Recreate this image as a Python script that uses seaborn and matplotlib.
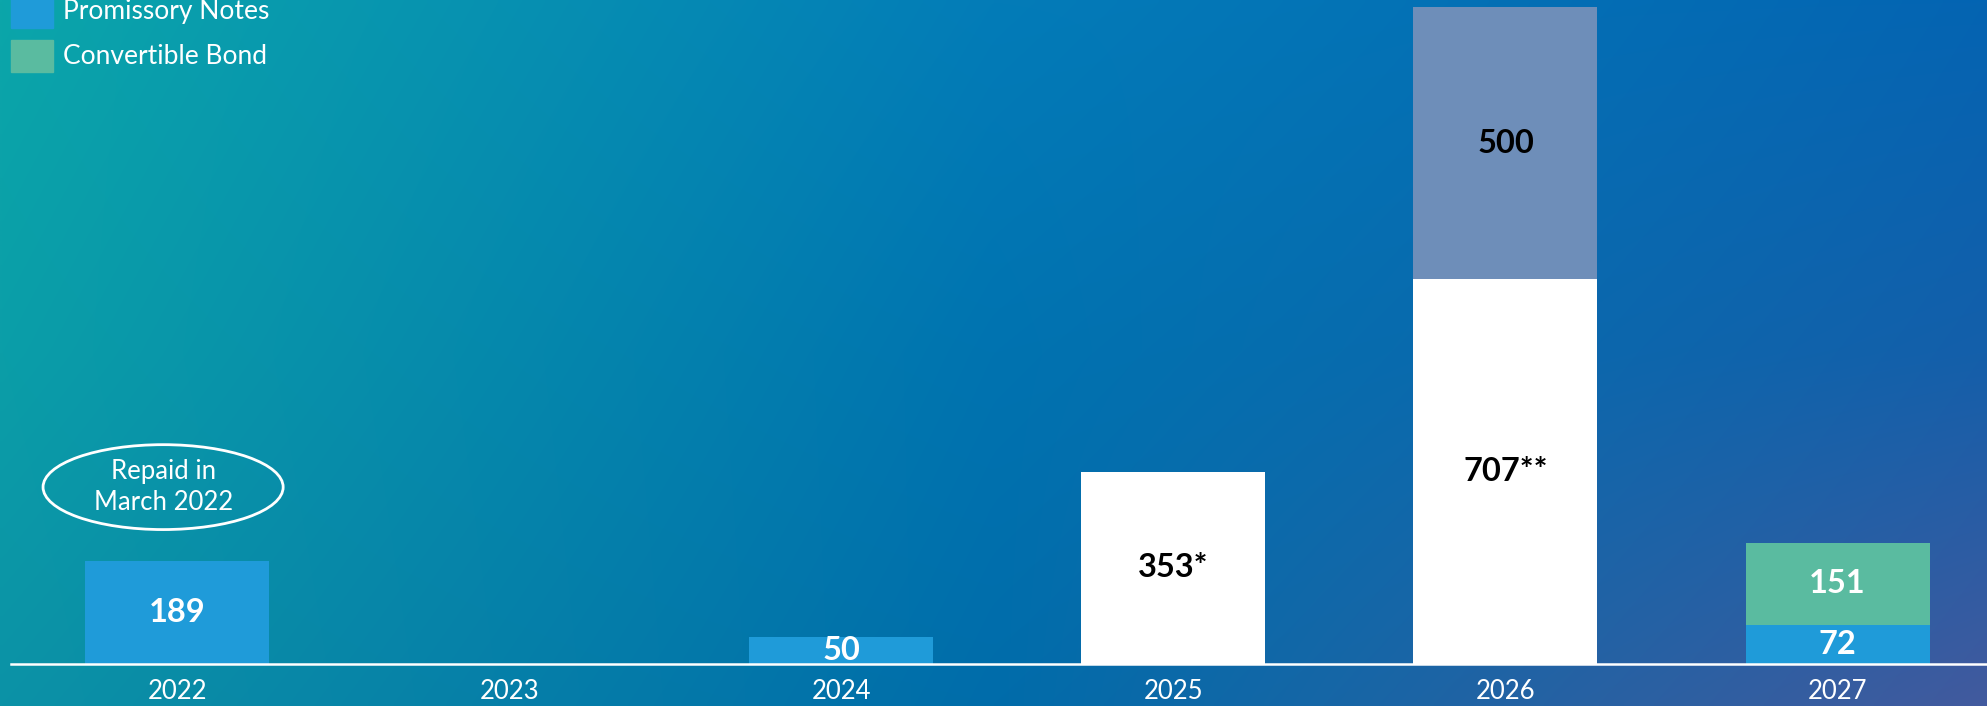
import numpy as np
import pandas as pd
import seaborn as sns
import matplotlib.pyplot as plt
from matplotlib.patches import Ellipse, Rectangle

plt.rcParams['font.family'] = ['Lato', 'DejaVu Sans']

# data
years = ['2022', '2023', '2024', '2025', '2026', '2027']
promissory_notes = [189, 0, 50, 0, 0, 72]
white_debt = [0, 0, 0, 353, 707, 0]
white_suffix = ['', '', '', '*', '**', '']
grey_debt = [0, 0, 0, 0, 500, 0]
convertible_bond = [0, 0, 0, 0, 0, 151]

BLUE = '#1f9bd9'
GREEN = '#5abba0'
GREY = '#6e8eb9'
W, H = 1987, 706

fig = plt.figure(figsize=(W / 100, H / 100), dpi=100)

# background gradient (teal -> blue -> purple-ish bottom right)
grid = np.array([
    [[11, 166, 170], [3, 124, 184], [4, 100, 178]],
    [[11, 158, 168], [0, 115, 176], [20, 95, 170]],
    [[12, 146, 166], [0, 108, 170], [66, 90, 158]],
], dtype=float) / 255
nx, ny = 400, 150
xs = np.linspace(0, 1, nx)
ys = np.linspace(0, 1, ny)
rows = np.stack([np.stack([np.interp(xs, [0, .5, 1], grid[r, :, c]) for c in range(3)], -1)
                 for r in range(3)])
img = np.stack([np.stack([np.interp(ys, [0, .5, 1], rows[:, i, c]) for c in range(3)], -1)
                for i in range(nx)], 1)
bg = fig.add_axes([0, 0, 1, 1])
bg.imshow(img, aspect='auto', extent=[0, 1, 0, 1], origin='upper', interpolation='bilinear')
bg.axis('off')

ax = fig.add_axes([11 / W, 42 / H, 1 - 11 / W, 664 / H])
ax.patch.set_alpha(0)

df = pd.DataFrame({'year': years, 'pn': promissory_notes, 'wd': white_debt,
                   'gd': grey_debt, 'cb': convertible_bond})
b1 = np.array(promissory_notes)
b2 = b1 + np.array(white_debt)
b3 = b2 + np.array(grey_debt)

common = dict(data=df, x='year', order=years, width=0.554, linewidth=0,
              saturation=1, errorbar=None, ax=ax)
sns.barplot(y='pn', color=BLUE, **common)
sns.barplot(y='wd', color='white', bottom=b1, **common)
sns.barplot(y='gd', color=GREY, bottom=b2, **common)
sns.barplot(y='cb', color=GREEN, bottom=b3, **common)

# value labels
lab = dict(ha='center', va='center', fontsize=23.5, fontweight='bold')
for i in range(len(years)):
    if promissory_notes[i]:
        ax.text(i, promissory_notes[i] / 2, str(promissory_notes[i]), color='white', **lab)
    if white_debt[i]:
        ax.text(i, b1[i] + white_debt[i] / 2, f'{white_debt[i]}{white_suffix[i]}', color='black', **lab)
    if grey_debt[i]:
        ax.text(i, b2[i] + grey_debt[i] / 2, str(grey_debt[i]), color='black', **lab)
    if convertible_bond[i]:
        ax.text(i, b3[i] + convertible_bond[i] / 2, str(convertible_bond[i]), color='white', **lab)

ax.set_xlim(-0.5, 5.45)
ax.set_ylim(0, 1220)
ax.set_xlabel('')
ax.set_ylabel('')
ax.set_yticks([])
for s in ['top', 'left', 'right']:
    ax.spines[s].set_visible(False)
ax.spines['bottom'].set_color('white')
ax.spines['bottom'].set_linewidth(1.8)
ax.tick_params(axis='x', length=0, pad=10.5, labelsize=18.5, labelcolor='white')

# "Repaid in March 2022" callout
ax.add_patch(Ellipse((-0.042, 325), 0.723, 156, facecolor='none', edgecolor='white', lw=2))
ax.text(-0.042, 325, 'Repaid in\nMarch 2022', ha='center', va='center', color='white',
        fontsize=18.5, linespacing=1.3)

# legend (top entry partially cut off at the top edge)
for y_top, col, name in [(-4, BLUE, 'Promissory Notes'), (40, GREEN, 'Convertible Bond')]:
    fig.patches.append(Rectangle((11 / W, 1 - (y_top + 32) / H), 42 / W, 32 / H,
                                 transform=fig.transFigure, color=col))
    fig.text(63 / W, 1 - (y_top + 16) / H, name, color='white', fontsize=19, va='center')

fig.savefig('out.png', dpi=100)
